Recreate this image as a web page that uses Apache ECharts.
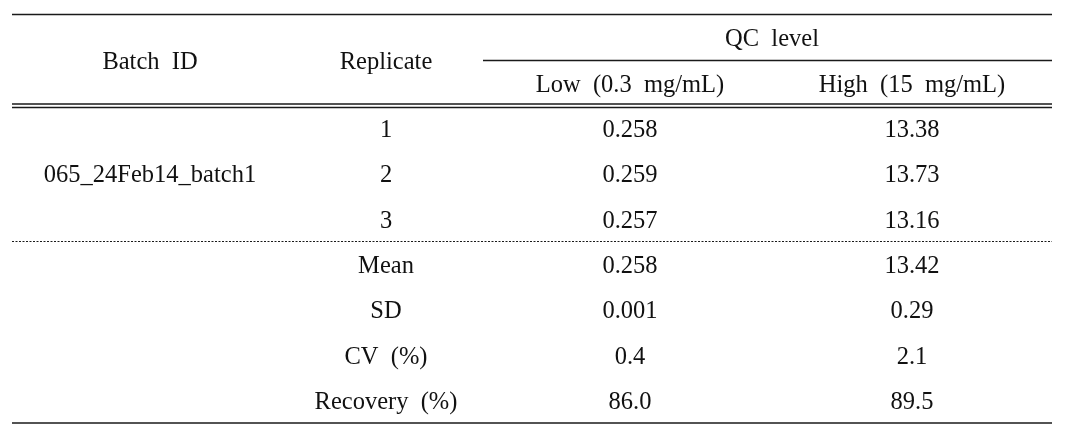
<!DOCTYPE html>
<html>
<head>
<meta charset="utf-8">
<script src="https://cdn.jsdelivr.net/npm/echarts@6/dist/echarts.min.js"></script>
<style>
html,body{margin:0;padding:0;background:#fff;}
#chart{width:1067px;height:438px;}
</style>
</head>
<body>
<div id="chart"></div>
<script>
// ---- table content ----
const headerBatch = 'Batch  ID';
const headerReplicate = 'Replicate';
const headerQC = 'QC  level';
const qcLevels = ['Low  (0.3  mg/mL)', 'High  (15  mg/mL)'];
const batchIds = ['065_24Feb14_batch1'];
const replicates = ['1', '2', '3'];
const lowValues = ['0.258', '0.259', '0.257'];
const highValues = ['13.38', '13.73', '13.16'];
const statLabels = ['Mean', 'SD', 'CV  (%)', 'Recovery  (%)'];
const statLow = ['0.258', '0.001', '0.4', '86.0'];
const statHigh = ['13.42', '0.29', '2.1', '89.5'];

// ---- layout (pixel space of the hidden axes) ----
const W = 1067, H = 438;
const colX = [150, 386, 630, 912];
const textShift = 1.8;
const rowY0 = 128.5 + textShift, rowStep = 45.4;
const rowY = i => rowY0 + i * rowStep;
const tableLeft = 12, tableRight = 1052;

const cells = [];
cells.push([colX[0], 61 + textShift, headerBatch]);
cells.push([colX[1], 61 + textShift, headerReplicate]);
cells.push([(colX[2] + colX[3]) / 2 + 1, 38 + textShift, headerQC]);
cells.push([colX[2], 84 + textShift, qcLevels[0]]);
cells.push([colX[3], 84 + textShift, qcLevels[1]]);
cells.push([colX[0], rowY(1), batchIds[0]]);
replicates.forEach((r, i) => {
  cells.push([colX[1], rowY(i), r]);
  cells.push([colX[2], rowY(i), lowValues[i]]);
  cells.push([colX[3], rowY(i), highValues[i]]);
});
statLabels.forEach((s, i) => {
  const r = i + replicates.length;
  cells.push([colX[1], rowY(r), s]);
  cells.push([colX[2], rowY(r), statLow[i]]);
  cells.push([colX[3], rowY(r), statHigh[i]]);
});

// rules: [x1, x2, y, width, dashed]
const rules = [
  [tableLeft, tableRight, 14.5, 1.6, 0],
  [483, tableRight, 60.5, 1.3, 0],
  [tableLeft, tableRight, 104, 1.3, 0],
  [tableLeft, tableRight, 107.5, 1.3, 0],
  [tableLeft, tableRight, 241.5, 1, 1],
  [tableLeft, tableRight, 423, 1.6, 0]
];

const font = '"Liberation Serif", "Times New Roman", serif';
const chart = echarts.init(document.getElementById('chart'), null, {renderer: 'canvas'});
chart.setOption({
  backgroundColor: '#ffffff',
  animation: false,
  grid: {left: 0, right: 0, top: 0, bottom: 0},
  xAxis: {type: 'value', min: 0, max: W, show: false},
  yAxis: {type: 'value', min: 0, max: H, inverse: true, show: false},
  series: [
    {
      type: 'custom',
      coordinateSystem: 'cartesian2d',
      data: rules,
      silent: true,
      renderItem: function (params, api) {
        const p1 = api.coord([api.value(0), api.value(2)]);
        const p2 = api.coord([api.value(1), api.value(2)]);
        const dashed = api.value(4) === 1;
        return {
          type: 'line',
          shape: {x1: p1[0], y1: p1[1], x2: p2[0], y2: p2[1]},
          style: {
            stroke: '#1a1a1a',
            lineWidth: api.value(3),
            lineDash: dashed ? [2, 1.5] : null
          }
        };
      }
    },
    {
      type: 'custom',
      coordinateSystem: 'cartesian2d',
      data: cells,
      silent: true,
      dimensions: ['x', 'y', {name: 't', type: 'ordinal'}],
      renderItem: function (params, api) {
        const item = cells[params.dataIndex];
        const p = api.coord([item[0], item[1]]);
        return {
          type: 'text',
          x: p[0],
          y: p[1],
          style: {
            text: item[2],
            fill: '#111111',
            font: '24.5px ' + font,
            textAlign: 'center',
            textVerticalAlign: 'middle'
          }
        };
      }
    }
  ]
});
</script>
</body>
</html>
